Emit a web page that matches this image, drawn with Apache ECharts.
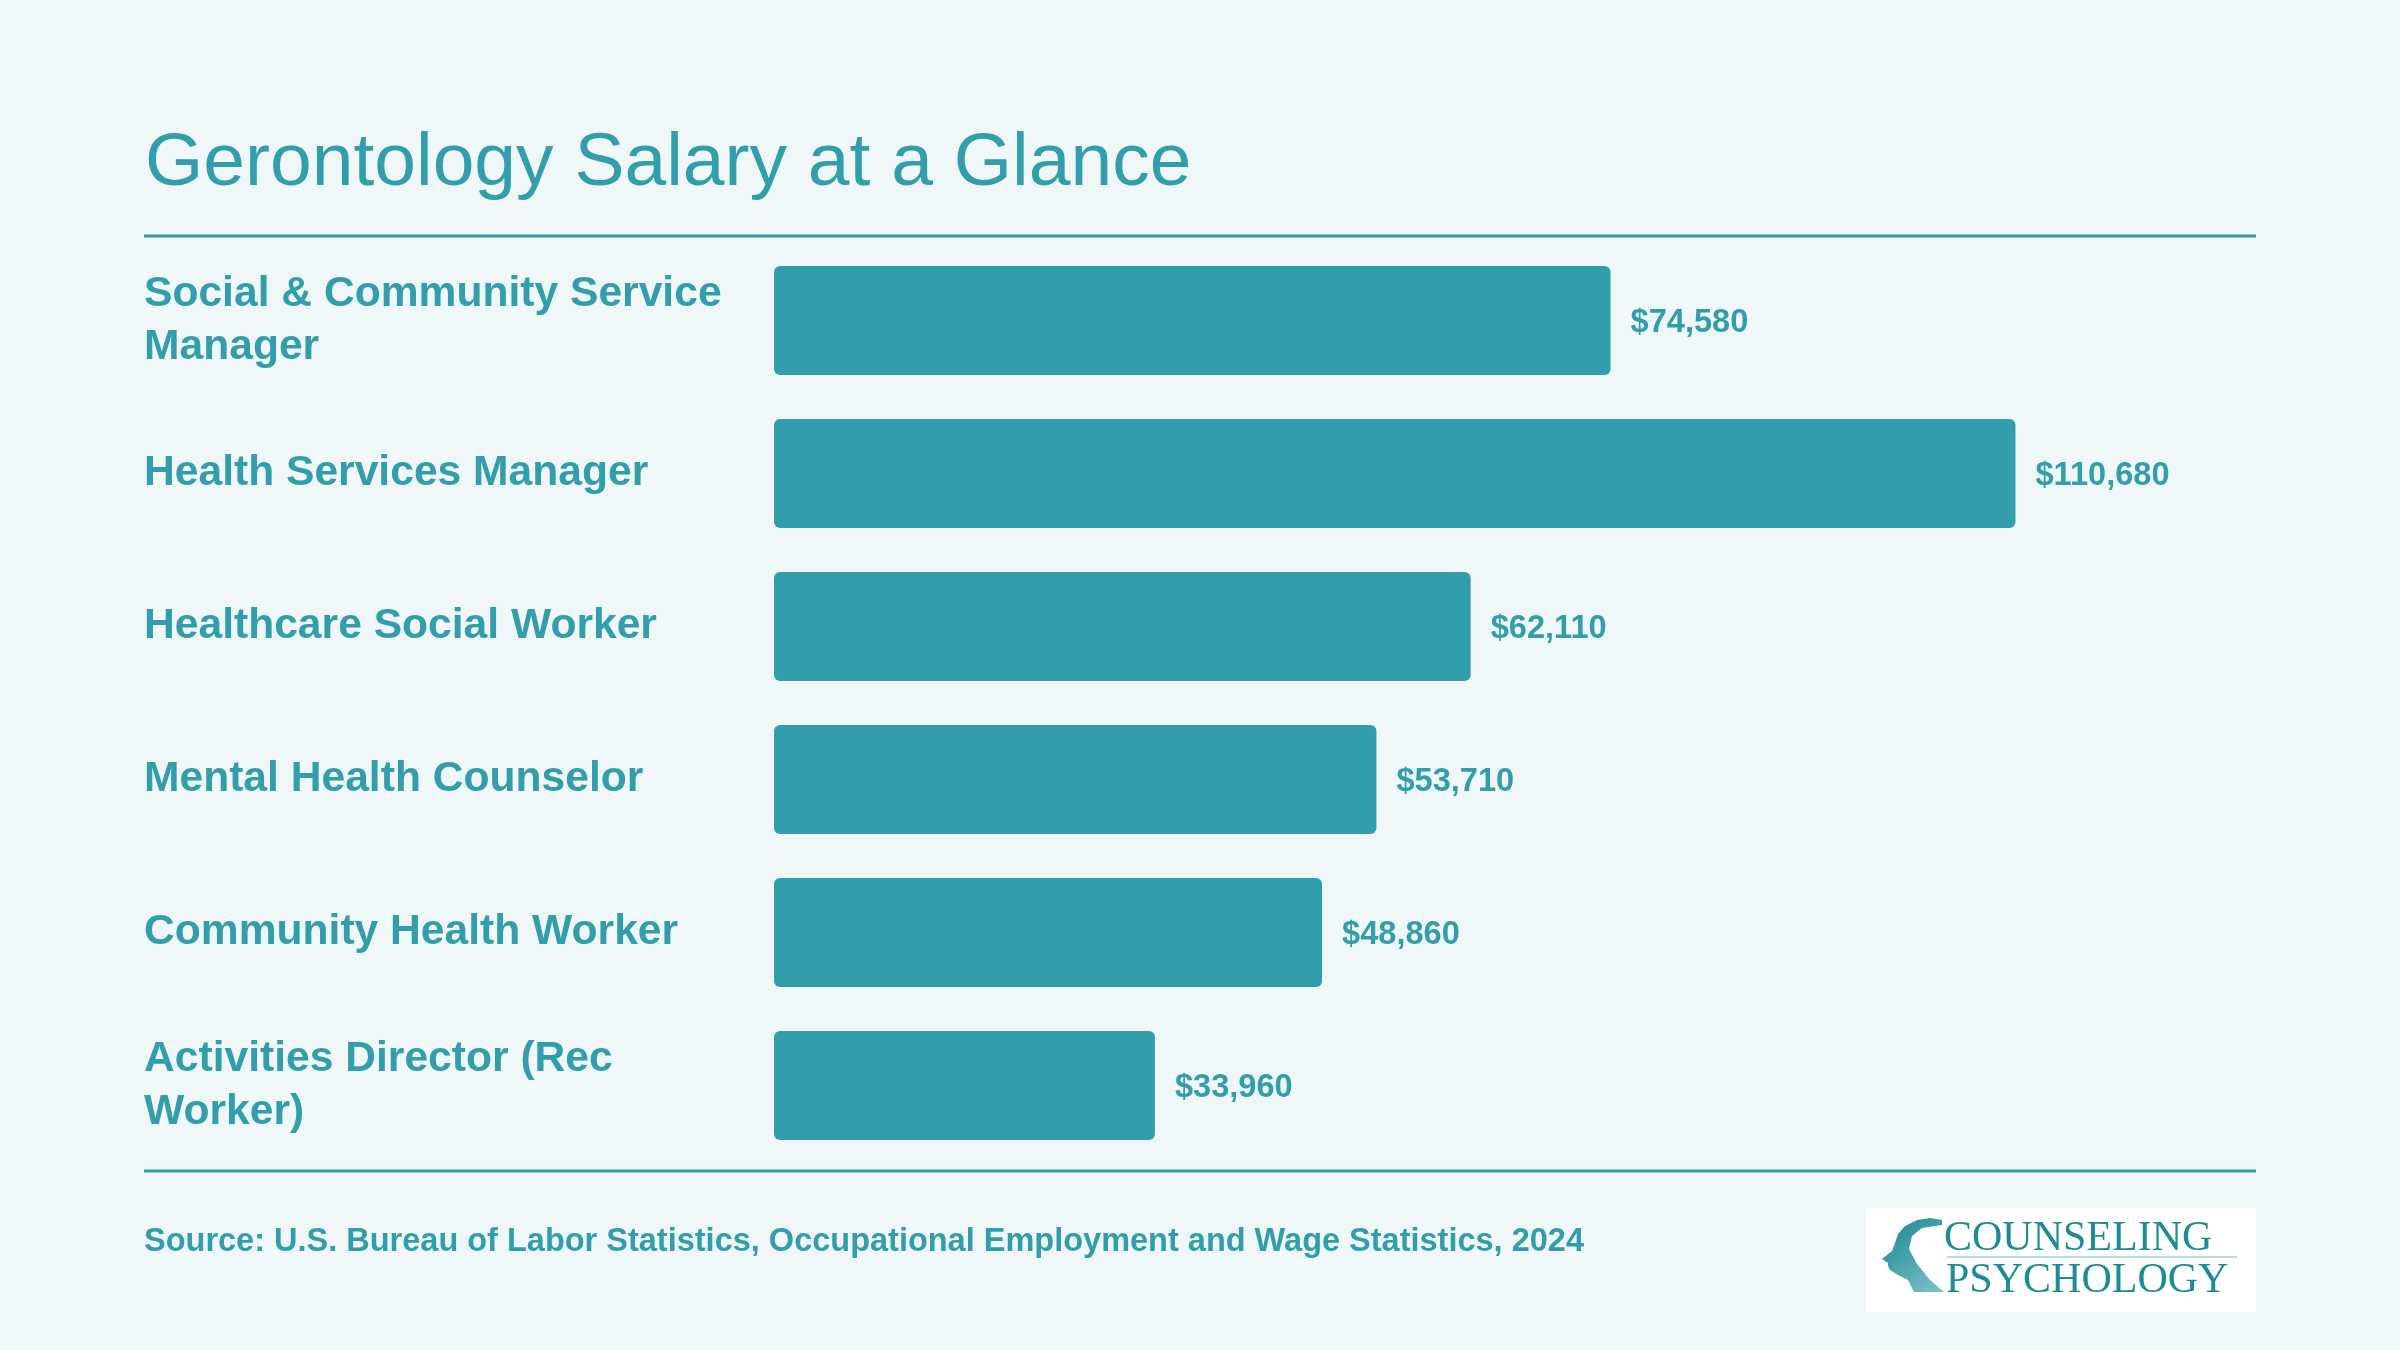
<!DOCTYPE html>
<html>
<head>
<meta charset="utf-8">
<script src="https://cdn.jsdelivr.net/npm/echarts@6/dist/echarts.min.js"></script>
<style>
html,body{margin:0;padding:0;background:#EFF7F8;}
#chart{width:2400px;height:1350px;}
</style>
</head>
<body>
<div id="chart"></div>
<script>
const categories = [
  "Social & Community Service Manager",
  "Health Services Manager",
  "Healthcare Social Worker",
  "Mental Health Counselor",
  "Community Health Worker",
  "Activities Director (Rec Worker)"
];
const salaries = [74580, 110680, 62110, 53710, 48860, 33960];
const titleText = "Gerontology Salary at a Glance";
const sourceText = "Source: U.S. Bureau of Labor Statistics, Occupational Employment and Wage Statistics, 2024";

const TEAL = "#329EAB";
const FONT = "'Liberation Sans', Arial, Helvetica, sans-serif";
const SERIF = "'Liberation Serif', 'DejaVu Serif', serif";

const chart = echarts.init(document.getElementById('chart'), null, {renderer: 'canvas'});
chart.setOption({
  backgroundColor: "#EFF7F8",
  animation: false,
  title: {
    text: titleText,
    left: 140,
    top: 122,
    textStyle: {color: TEAL, fontSize: 75, fontWeight: 'normal', fontFamily: FONT}
  },
  grid: {left: 774, top: 244, width: 1346, height: 918, containLabel: false},
  xAxis: {type: 'value', min: 0, max: 120000, show: false},
  yAxis: {
    type: 'category',
    data: categories,
    inverse: true,
    axisLine: {show: false},
    axisTick: {show: false},
    axisLabel: {
      align: 'left',
      margin: 630,
      width: 610,
      overflow: 'break',
      color: TEAL,
      fontSize: 42.6,
      fontWeight: 'bold',
      fontFamily: FONT,
      lineHeight: 53,
      verticalAlign: 'middle',
      padding: [7, 0, 0, 0]
    }
  },
  series: [{
    type: 'bar',
    data: salaries,
    barWidth: 109,
    itemStyle: {color: TEAL, borderRadius: 6},
    label: {
      show: true,
      position: 'right',
      distance: 20,
      offset: [0, 3],
      color: TEAL,
      fontSize: 32.6,
      fontWeight: 'bold',
      fontFamily: FONT,
      formatter: p => '$' + p.value.toLocaleString('en-US')
    }
  }],
  graphic: [
    {type: 'line', shape: {x1: 144, y1: 236, x2: 2256, y2: 236}, style: {stroke: TEAL, lineWidth: 3}},
    {type: 'line', shape: {x1: 144, y1: 1171, x2: 2256, y2: 1171}, style: {stroke: TEAL, lineWidth: 3}},
    {type: 'text', x: 144, y: 1242, style: {text: sourceText, fill: TEAL, font: "bold 32.5px " + FONT, textVerticalAlign: 'middle'}},
    {type: 'rect', shape: {x: 1866, y: 1208, width: 390, height: 104}, style: {fill: '#FFFFFF'}},
    {type: 'polygon', shape: {points: [
        [1942,1220],[1930,1218],[1917,1220],[1905,1226],[1898,1234],[1895,1243],[1892,1251],[1882,1259],
        [1888,1263],[1888,1266],[1890,1270],[1898,1275],[1908,1280],[1914,1292],[1944,1292],
        [1930,1280],[1917,1264],[1909,1249],[1912,1236],[1922,1228],[1942,1225]
      ]},
      style: {fill: {type: 'linear', x: 0, y: 0, x2: 1, y2: 1, colorStops: [{offset: 0, color: '#17858F'}, {offset: 1, color: '#7FC3C9'}]}}},
    {type: 'text', x: 1944, y: 1260, style: {text: 'COUNSELING', fill: '#1E8C96', font: "42px " + SERIF, textVerticalAlign: 'bottom'}},
    {type: 'line', shape: {x1: 1947, y1: 1257, x2: 2237, y2: 1257}, style: {stroke: '#B5DCDF', lineWidth: 2}},
    {type: 'text', x: 1946, y: 1302, style: {text: 'PSYCHOLOGY', fill: '#1E8C96', font: "42px " + SERIF, textVerticalAlign: 'bottom'}}
  ]
});
</script>
</body>
</html>
